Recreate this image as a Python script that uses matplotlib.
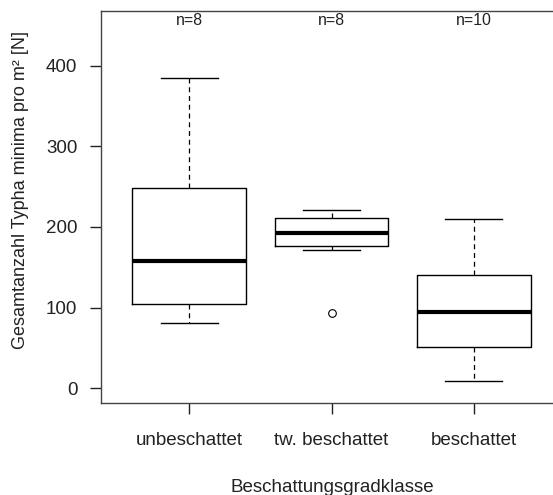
import matplotlib
matplotlib.use("Agg")
import matplotlib.pyplot as plt

plt.rcParams['font.family'] = ['Liberation Sans', 'DejaVu Sans']

categories = ["unbeschattet", "tw. beschattet", "beschattet"]
whisker_low = [81, 171, 9]
q1 = [104, 176.5, 51]
median = [157.5, 192, 94]
q3 = [248.5, 211, 140.5]
whisker_high = [385, 221.5, 209.5]
outliers = [[], [93], []]
counts = [8, 8, 10]
yticks = [0, 100, 200, 300, 400]

stats = []
for i, c in enumerate(categories):
    stats.append(dict(label=c, whislo=whisker_low[i], q1=q1[i], med=median[i],
                      q3=q3[i], whishi=whisker_high[i], fliers=outliers[i]))

fig = plt.figure(figsize=(5.53, 4.95), dpi=100)
ax = fig.add_axes([101/553, 1 - 402.7/495, 461/553, 392/495])

positions = [1, 2, 3]
ax.bxp(stats, positions=positions, widths=0.8, showfliers=True,
       boxprops=dict(color='black', linewidth=1.0),
       medianprops=dict(color='black', linewidth=3.0, solid_capstyle='butt'),
       whiskerprops=dict(color='black', linewidth=0.9, linestyle=(0, (4, 3))),
       capprops=dict(color='black', linewidth=1.0),
       capwidths=0.4,
       flierprops=dict(marker='o', markersize=5.5, markerfacecolor='none',
                       markeredgecolor='black', markeredgewidth=0.8))

ax.set_xlim(0.38, 3.62)
ax.set_ylim(-18, 468)
ax.set_yticks(yticks)
ax.set_yticklabels([str(t) for t in yticks], fontsize=13.5)
ax.set_xticks(positions)
ax.set_xticklabels(categories, fontsize=13.5)
ax.tick_params(axis='y', length=8, width=1, pad=9, colors='#222222', labelcolor='#222222')
ax.tick_params(axis='x', length=8, width=1, pad=13, colors='#222222', labelcolor='#222222')
for s in ax.spines.values():
    s.set_color('#444444')
    s.set_linewidth(1.0)

for p, n in zip(positions, counts):
    ax.text(p, 456, f"n={n}", ha='center', va='center', fontsize=11.5, color='#222222')

ax.set_ylabel("Gesamtanzahl Typha minima pro m² [N]", fontsize=13, color='#222222')
ax.yaxis.set_label_coords((29 - 101) / 461, (402.7 - 190) / 392)
fig.text(332/553, 1 - 487/495, "Beschattungsgradklasse", ha='center', va='center',
         fontsize=13.5, color='#222222')

fig.savefig("out.png", dpi=100)
